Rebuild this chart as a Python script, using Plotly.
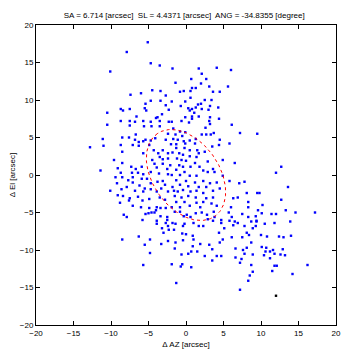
import numpy as np
import plotly.graph_objects as go

# Ellipse parameters (from title)
SA = 6.714      # semi-major [arcsec]
SL = 4.4371     # semi-minor [arcsec]
ANG = -34.8355  # [degree]

# Pointing offsets: (dAZ, dEl) [arcsec]
pts = [
    (-5.1,17.7),(-7.9,16.4),(-4.7,14.9),(-3.5,14.6),(-10.1,13.8),(-6.0,10.9),(-7.4,10.7),(-4.5,11.3),
    (-3.4,11.2),(-2.7,10.6),(-4.7,9.9),(-3.4,9.9),(-2.7,9.3),(-5.4,9.5),(-8.7,8.8),(-8.4,8.6),(-7.5,8.8),
    (-5.5,8.9),(-5.3,8.6),(-2.3,8.7),(-10.5,8.3),(-3.2,8.1),(-6.6,7.8),(-3.8,7.7),(-4.0,7.6),
    (-1.8,14.2),(1.7,14.2),(4.1,14.3),(6.0,14.0),(2.1,13.5),(0.7,12.8),(2.7,12.8),(-1.4,12.3),(2.0,12.2),
    (3.1,11.8),(5.6,11.8),(1.3,11.6),(0.8,11.6),(-0.8,11.1),(-0.3,11.2),(0.6,11.2),(3.6,11.1),(4.5,11.1),
    (0.6,10.3),(2.5,10.0),(3.4,10.0),(-1.9,9.8),(-0.1,9.8),(2.0,9.5),(1.6,9.4),(-0.7,9.2),(3.2,9.2),
    (4.3,9.0),(0.3,8.9),(0.8,8.8),(1.3,9.0),(2.1,8.8),(3.0,8.7),(0.5,8.6),(1.1,8.3),(-0.1,7.7),(0.8,7.8),
    (1.7,7.8),(3.2,7.7),(4.4,7.5),(0.8,7.5),
    (-10.5,6.7),(-8.7,7.2),(-7.5,7.2),(-7.5,6.6),(-6.8,7.1),(-5.7,7.2),(-5.6,6.5),(-4.7,7.1),(-4.6,6.5),
    (-3.5,7.2),(-3.5,6.5),(-2.3,7.1),(-6.7,5.4),(-8.5,5.0),(-7.6,5.0),(-6.8,4.7),(-6.3,4.4),(-5.7,4.5),
    (-5.4,4.7),(-4.7,4.6),(-4.1,4.9),(-2.7,4.7),(-2.4,5.5),(-11.0,3.9),(-12.8,3.7),(-11.1,4.8),(-8.7,4.0),
    (-7.1,4.0),(-6.3,3.9),(-8.5,3.1),(-5.7,2.9),(-4.9,4.0),(-4.3,3.3),(-3.7,2.9),(-3.1,3.3),(-2.4,2.9),
    (-3.5,2.4),(-4.5,2.0),(-3.1,2.1),(-2.4,2.2),(-9.6,2.0),(-8.5,1.6),(-7.3,1.1),(-6.7,0.8),(-5.9,1.1),
    (-4.2,1.5),(-3.1,1.5),(-3.9,1.0),(-2.5,0.8),(-11.4,0.6),(-9.1,0.9),(-8.7,0.3),(-7.2,0.3),(-6.4,0.3),
    (-5.7,0.1),(-4.7,0.4),(-3.6,0.2),(-2.4,0.1),(-9.4,-0.3),(-8.5,-0.3),(-7.1,-0.3),(-7.7,-0.7),(-5.9,-0.5),
    (-5.2,-0.5),(-3.1,-0.8),(-3.8,-0.9),(-9.2,-1.1),(-7.1,-1.0),(-4.7,-1.1),(-2.8,-1.3),(-6.2,-1.4),
    (-7.9,-1.6),(-5.5,-1.8),(-4.7,-1.9),(-3.3,-1.8),(-10.1,-2.1),(-8.6,-1.9),(-6.8,-2.1),(-5.7,-2.2),
    (-3.9,-2.2),(-2.4,-2.2),(-9.1,-2.7),(-8.4,-2.8),(-7.5,-3.1),(-7.6,-3.4),(-6.4,-2.9),(-4.9,-3.2),
    (-3.5,-3.0),(-2.8,-3.3),(-5.8,-3.4),(-8.8,-3.7),(-7.1,-4.1),(-6.0,-4.3),(-4.9,-4.4),(-3.9,-4.3),
    (-3.4,-4.4),(-2.7,-4.4),
    (-1.9,7.1),(-0.6,7.2),(0.4,7.0),(3.1,7.2),(2.6,6.3),(3.2,6.8),(6.1,6.7),(-1.7,6.2),(-0.8,5.8),
    (-0.1,5.7),(-1.4,5.4),(-0.5,5.2),(2.1,5.4),(2.7,5.4),(3.3,5.4),(3.7,5.6),(7.2,5.6),(-1.7,4.8),
    (-1.1,4.7),(-0.3,4.5),(0.5,4.6),(1.3,4.8),(4.5,4.7),(-2.0,4.1),(-1.3,4.1),(-0.1,4.2),(1.2,4.2),
    (3.5,3.8),(4.4,4.0),(5.8,4.2),(-1.3,3.6),(-0.2,3.6),(0.5,3.3),(1.5,3.3),(1.7,2.9),(2.5,3.1),
    (-1.8,3.0),(-0.9,2.9),(-0.4,2.7),(0.5,2.5),(1.4,2.4),(-1.2,2.2),(-0.6,2.0),(0.0,1.9),(1.2,1.6),
    (2.9,1.8),(4.9,2.0),(6.5,1.6),(-2.1,1.3),(-0.9,1.3),(-0.4,1.1),(0.6,1.1),(1.8,1.1),(3.6,0.8),
    (-1.3,0.7),(-0.2,0.4),(2.3,0.6),(2.9,0.4),(3.8,0.4),(-1.9,0.0),(-0.8,0.0),(0.5,-0.1),(1.4,-0.1),
    (4.9,-0.1),(5.8,-0.8),(7.1,-1.1),(7.8,-0.9),(-1.3,-0.7),(0.0,-0.8),(1.2,-1.0),(2.3,-0.8),(3.2,-1.1),
    (4.1,-1.0),(-1.8,-1.6),(-0.8,-1.3),(0.3,-1.5),(1.7,-1.6),(2.7,-1.6),(-1.6,-2.1),(-1.1,-2.2),
    (-0.4,-2.0),(0.6,-2.2),(1.4,-2.1),(2.3,-2.4),(3.6,-2.1),(4.5,-1.8),(6.3,-3.1),(8.1,-2.4),(9.5,-2.4),
    (8.3,-3.6),(6.9,-3.0),(-1.5,-2.8),(-0.6,-3.0),(0.3,-2.8),(1.3,-3.0),(2.7,-3.1),(3.6,-3.0),
    (-1.3,-3.6),(-0.2,-3.6),(1.4,-3.7),(2.3,-3.6),(3.4,-3.8),(6.0,-4.3),(-1.9,-4.3),(-0.8,-4.3),
    (0.5,-4.1),(1.9,-4.3),(4.1,-4.1),(8.3,-4.3),
    (-8.3,-5.3),(-7.9,-5.6),(-5.8,-6.0),(-5.4,-5.2),(-5.0,-5.1),(-4.6,-5.0),(-4.2,-5.0),(-3.4,-5.5),
    (-3.9,-6.1),(-3.9,-6.5),(-2.7,-6.4),(-2.5,-5.6),(-2.5,-6.0),(-3.2,-7.1),(-2.4,-6.8),(-2.3,-7.3),
    (-3.0,-7.7),(-8.5,-8.6),(-6.3,-8.2),(-4.8,-8.6),(-5.5,-9.3),(-3.3,-9.2),(-2.4,-8.8),(-4.8,-10.4),
    (-5.7,-12.0),(-4.0,-4.7),
    (-1.5,-4.9),(-0.8,-4.9),(-0.3,-5.5),(0.1,-5.3),(0.6,-5.6),(1.3,-5.1),(2.1,-5.0),(2.8,-5.3),
    (3.7,-4.9),(3.8,-5.6),(2.9,-5.9),(3.6,-6.1),(4.7,-6.0),(4.7,-6.4),(5.7,-5.0),(6.1,-5.6),(7.5,-5.2),
    (8.3,-5.6),(9.3,-5.5),(-1.8,-6.4),(-1.4,-6.5),(-0.4,-6.8),(-0.2,-6.5),(1.0,-6.4),(1.7,-6.8),
    (2.3,-6.8),(5.1,-7.1),(5.8,-6.1),(6.5,-6.2),(6.9,-6.4),(6.3,-6.7),(8.7,-6.2),(9.4,-6.2),(7.8,-6.8),
    (8.9,-7.1),(-1.6,-7.3),(-0.5,-7.8),(0.0,-7.9),(0.9,-8.1),(1.0,-8.6),(4.4,-7.7),(8.1,-7.7),(8.4,-8.0),
    (6.1,-8.3),(7.5,-8.3),(-0.4,-8.7),(4.9,-8.6),(8.7,-9.0),(-1.4,-9.0),(4.5,-9.0),(1.9,-9.2),(3.1,-9.3),
    (0.9,-9.5),(-1.5,-9.8),(6.6,-9.8),(8.1,-9.7),(3.5,-9.9),(7.6,-10.0),(0.7,-10.2),(1.5,-10.2),
    (7.8,-10.5),(8.9,-10.6),(-0.6,-10.6),(0.3,-10.5),(2.5,-10.8),(4.1,-10.8),(4.7,-10.8),(6.6,-11.0),
    (7.4,-11.2),(3.5,-11.4),(7.2,-11.7),(8.7,-12.0),(-1.9,-11.9),(-0.7,-12.2),(-0.5,-11.9),(0.7,-12.3),
    (8.9,-12.9),(8.5,-13.4),(8.3,-14.1),(-1.3,-14.4),(7.2,-15.3),
    (12.0,0.3),(13.6,-1.6),(9.8,-2.4),(12.7,-3.3),(10.2,-4.0),(9.6,-4.7),(10.1,-5.1),(11.4,-5.2),
    (12.0,-5.2),(13.3,-4.7),(14.6,-5.0),(17.2,-5.0),(9.4,-6.1),(10.5,-6.5),(11.8,-6.4),(13.9,-6.2),
    (9.3,-6.8),(10.0,-8.0),(10.8,-8.2),(12.4,-8.2),(13.0,-8.3),(14.0,-8.1),(10.1,-9.6),(10.7,-9.7),
    (11.6,-10.0),(12.9,-9.9),(10.6,-10.2),(11.2,-10.2),(10.4,-10.7),(11.8,-10.5),(12.6,-10.6),
    (13.2,-10.7),(11.2,-11.1),(11.8,-12.1),(12.1,-12.1),(16.2,-12.0),(11.5,-12.8),(14.2,-13.2),
    (9.5,5.5),(12.7,1.1),
]
daz = [p[0] for p in pts]
delv = [p[1] for p in pts]

# a point drawn in black
black_az = [12.0]
black_el = [-16.1]

tick_vals = [-20, -15, -10, -5, 0, 5, 10, 15, 20]

# Ellipse outline (major axis tilted by ANG from the El axis)
t = np.linspace(0, 2 * np.pi, 200)
alpha = np.deg2rad(90 - ANG)
ex = SA * np.cos(t) * np.cos(alpha) - SL * np.sin(t) * np.sin(alpha)
ey = SA * np.cos(t) * np.sin(alpha) + SL * np.sin(t) * np.cos(alpha)

fig = go.Figure()
fig.add_trace(go.Scatter(x=daz, y=delv, mode="markers",
                         marker=dict(symbol="square", size=2.4, color="#0000FF", line=dict(width=0)),
                         showlegend=False))
fig.add_trace(go.Scatter(x=black_az, y=black_el, mode="markers",
                         marker=dict(symbol="square", size=2.4, color="#000000", line=dict(width=0)),
                         showlegend=False))
fig.add_trace(go.Scatter(x=ex, y=ey, mode="lines",
                         line=dict(color="#FF0000", width=1, dash="3px,3px"),
                         showlegend=False))

font = "Liberation Sans, Arial, sans-serif"
axis_common = dict(range=[-20, 20], tickvals=tick_vals, ticks="inside", ticklen=4,
                   tickcolor="black", tickwidth=1, showline=True, linecolor="black",
                   linewidth=1, mirror="ticks", showgrid=False, zeroline=False,
                   automargin=False,
                   tickfont=dict(family=font, size=8, color="black"))

# the page body adds an 8px offset, so the figure is sized to fit the 357px window
fig.update_layout(
    width=349, height=349,
    margin=dict(l=28, r=21, t=17, b=32),
    paper_bgcolor="white", plot_bgcolor="white",
    title=dict(text="SA = 6.714 [arcsec]  SL = 4.4371 [arcsec]  ANG = -34.8355 [degree]",
               x=0.505, xanchor="center", y=0.978, yanchor="middle",
               font=dict(family=font, size=8, color="black")),
    xaxis=dict(title=dict(text="Δ AZ [arcsec]", font=dict(family=font, size=8, color="black"),
                          standoff=4), **axis_common),
    yaxis=dict(title=dict(text="Δ El [arcsec]", font=dict(family=font, size=8, color="black"),
                          standoff=6), **axis_common),
)

fig.write_html("out.html")
